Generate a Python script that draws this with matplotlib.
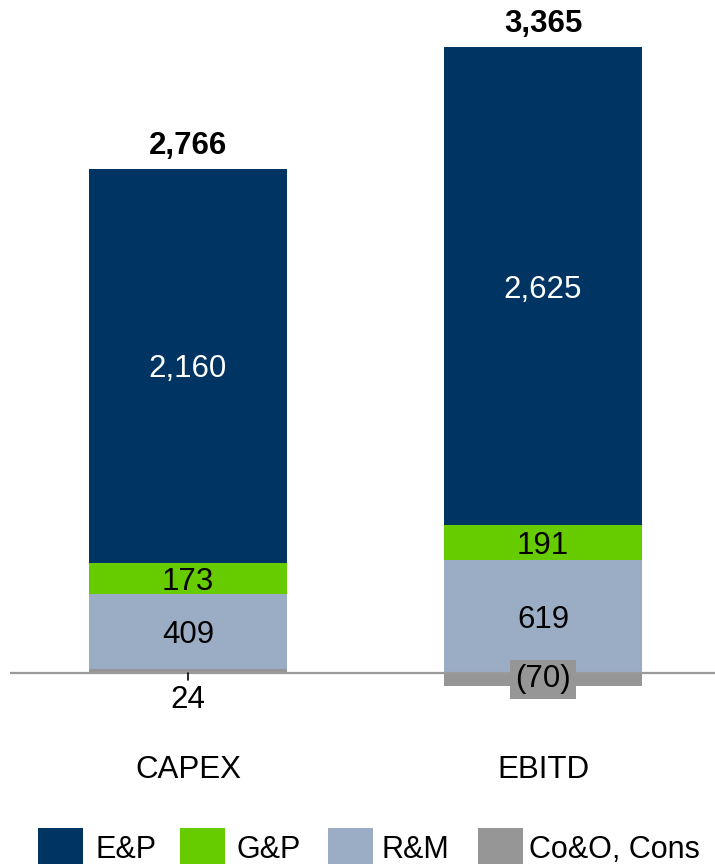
import matplotlib
matplotlib.use("Agg")
import matplotlib.pyplot as plt
from matplotlib.patches import Rectangle

plt.rcParams['font.family'] = ['Liberation Sans', 'DejaVu Sans']

categories = ["CAPEX", "EBITD"]
ep = [2160, 2625]
gp = [173, 191]
rm = [409, 619]
coo = [24, -70]
totals = [2766, 3365]

series_names = ["E&P", "G&P", "R&M", "Co&O, Cons"]
colors = {"E&P": "#003462", "G&P": "#66CC00", "R&M": "#9AADC4", "Co&O, Cons": "#969696"}

W, H, DPI = 715, 864, 100
fig = plt.figure(figsize=(W / DPI, H / DPI), dpi=DPI)
ax = fig.add_axes([0, 0, 1, 1])
ax.set_axis_off()

# pixel layout of the plotting area
zero_px = 673.0
px_per_unit = 504.0 / 2766.0
x_centers_px = [188.0, 543.0]
spacing_px = x_centers_px[1] - x_centers_px[0]
bar_w = 198.0 / spacing_px

ax.set_xlim(-x_centers_px[0] / spacing_px, 1 + (W - x_centers_px[1]) / spacing_px)
ax.set_ylim(-(H - zero_px) / px_per_unit, zero_px / px_per_unit)

FS = 22.5
VA = "center_baseline"
x = list(range(len(categories)))

for i in x:
    base = max(coo[i], 0)
    # Co&O segment (may be negative)
    ax.bar(i, coo[i], bottom=0, width=bar_w, color=colors["Co&O, Cons"], linewidth=0, zorder=2)
    ax.bar(i, rm[i], bottom=base, width=bar_w, color=colors["R&M"], linewidth=0, zorder=2)
    ax.text(i, base + rm[i] / 2, f"{rm[i]:,}", ha="center", va=VA, fontsize=FS, color="black", zorder=4)
    b2 = base + rm[i]
    ax.bar(i, gp[i], bottom=b2, width=bar_w, color=colors["G&P"], linewidth=0, zorder=2)
    ax.text(i, b2 + gp[i] / 2, f"{gp[i]:,}", ha="center", va=VA, fontsize=FS, color="black", zorder=4)
    b3 = b2 + gp[i]
    ax.bar(i, ep[i], bottom=b3, width=bar_w, color=colors["E&P"], linewidth=0, zorder=2)
    ax.text(i, b3 + ep[i] / 2, f"{ep[i]:,}", ha="center", va=VA, fontsize=FS, color="white", zorder=4)
    top = b3 + ep[i]
    ax.annotate(f"{totals[i]:,}", (i, top), xytext=(0, 10.8), textcoords="offset points",
                ha="center", va="baseline", fontsize=FS, fontweight="bold", color="black")

    # Co&O labels
    if coo[i] >= 0:
        ax.annotate("", (i, 0), xytext=(i, -7 / px_per_unit),
                    arrowprops=dict(arrowstyle="-", color="black", lw=1.2, shrinkA=0, shrinkB=0), zorder=5)
        ax.text(i, -23 / px_per_unit, f"{coo[i]:,}", ha="center", va=VA, fontsize=FS, color="black")
    else:
        ax.text(i, coo[i] / 2, f"({abs(coo[i]):,})", ha="center", va="center", fontsize=FS, color="black",
                zorder=6, bbox=dict(boxstyle="square,pad=0.15", facecolor=colors["Co&O, Cons"], edgecolor="none"))

# zero line
ax.plot([10 / spacing_px + ax.get_xlim()[0], ax.get_xlim()[1]], [0, 0], color="#9a9a9a", lw=1.6, zorder=3,
        solid_capstyle="butt")

# category labels
for i, c in enumerate(categories):
    ax.text(i, -(767 - zero_px) / px_per_unit, c, ha="center", va=VA, fontsize=FS, color="black")

# legend along the bottom edge
sq_left = [38, 180, 328, 478]
txt_left = [95, 236, 381, 529]
for name, sx, tx in zip(series_names, sq_left, txt_left):
    fig.patches.append(Rectangle((sx / W, 0), 45 / W, (H - 828) / H, transform=fig.transFigure,
                                 facecolor=colors[name], edgecolor="none"))
    fig.text(tx / W, 1 - 847 / H, name, ha="left", va=VA, fontsize=FS - 0.5, color="black")

fig.savefig("out.png", dpi=DPI)
